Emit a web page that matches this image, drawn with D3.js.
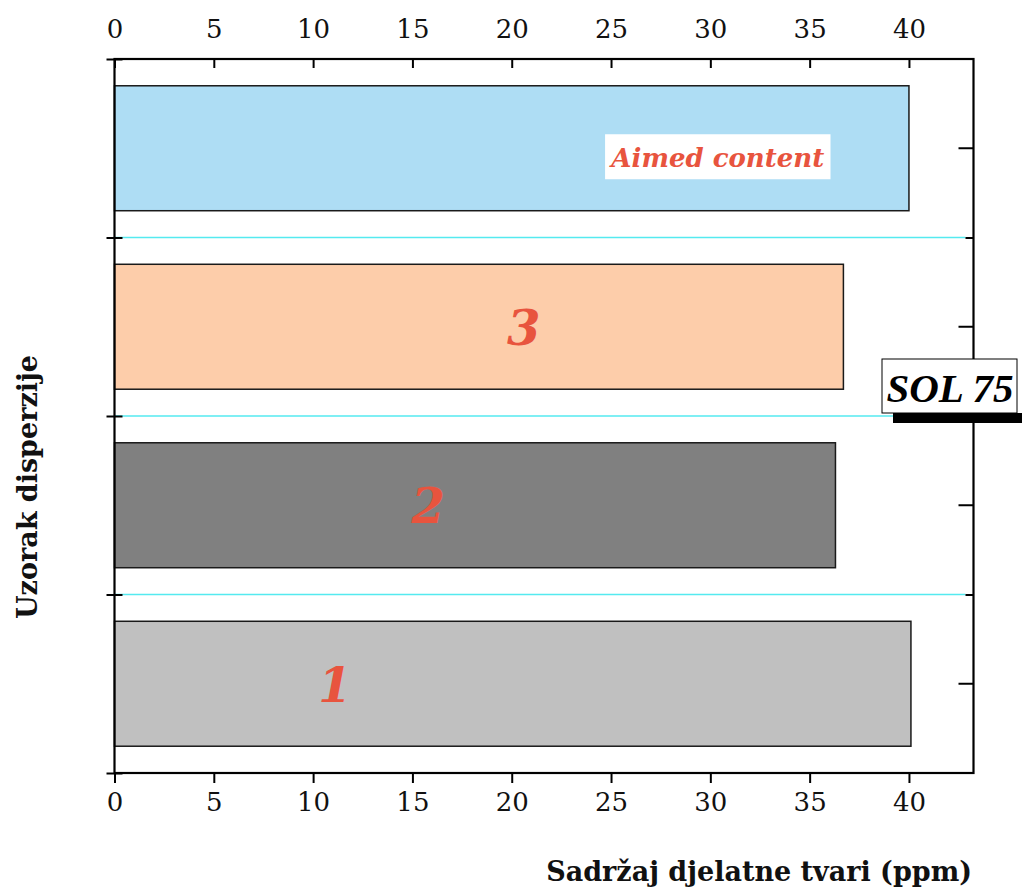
<!DOCTYPE html>
<html>
<head>
<meta charset="utf-8">
<script src="https://cdn.jsdelivr.net/npm/d3@7"></script>
<style>
  body { margin: 0; background: #fff; }
  svg { display: block; }
  .tick text { font-family: "DejaVu Serif", serif; font-size: 26px; fill: #111; }
  .tick line { stroke: #000; stroke-width: 2; }
</style>
</head>
<body>
<svg width="1022" height="893"></svg>
<script>
// samples, top to bottom as drawn
const samples = ['Aimed content', '3', '2', '1'];
const contents = [40.0, 36.7, 36.3, 40.1];
const barColors = ['#aeddf4', '#fdcdaa', '#808080', '#c0c0c0'];
const xTicks = [0, 5, 10, 15, 20, 25, 30, 35, 40];

const xMax = 43.25;
const margin = { left: 114.5, right: 973.5, top: 59, bottom: 773 };

const svg = d3.select('svg');

const x = d3.scaleLinear()
  .domain([0, xMax])
  .range([margin.left, margin.right]);

const y = d3.scaleBand()
  .domain(samples)
  .range([margin.top, margin.bottom])
  .paddingInner(0.3)
  .paddingOuter(0.15);

// category boundaries (0 = bottom ... 4 = top)
const yEdge = d3.scaleLinear()
  .domain([0, samples.length])
  .range([margin.bottom, margin.top]);

// cyan separators
svg.append('g')
  .selectAll('line')
  .data(d3.range(1, samples.length))
  .enter()
  .append('line')
  .attr('x1', margin.left)
  .attr('x2', margin.right - 8)
  .attr('y1', d => yEdge(d))
  .attr('y2', d => yEdge(d))
  .attr('stroke', '#55eaf0')
  .attr('stroke-width', 1.5);

// bars
svg.append('g')
  .selectAll('rect')
  .data(samples)
  .enter()
  .append('rect')
  .attr('x', x(0))
  .attr('y', d => y(d))
  .attr('width', (d, i) => x(contents[i]) - x(0))
  .attr('height', y.bandwidth())
  .attr('fill', (d, i) => barColors[i])
  .attr('stroke', '#1a1a1a')
  .attr('stroke-width', 1.5);

// frame
svg.append('rect')
  .attr('x', margin.left)
  .attr('y', margin.top)
  .attr('width', margin.right - margin.left)
  .attr('height', margin.bottom - margin.top)
  .attr('fill', 'none')
  .attr('stroke', '#000')
  .attr('stroke-width', 2.2);

// top axis, ticks inward
svg.append('g')
  .attr('transform', `translate(0,${margin.top})`)
  .call(d3.axisTop(x).tickValues(xTicks).tickSizeInner(-9).tickSizeOuter(0).tickPadding(21))
  .call(g => g.select('.domain').remove());

// bottom axis, ticks outward
svg.append('g')
  .attr('transform', `translate(0,${margin.bottom})`)
  .call(d3.axisBottom(x).tickValues(xTicks).tickSizeInner(10).tickSizeOuter(0).tickPadding(10))
  .call(g => g.select('.domain').remove());

// left boundary ticks (crossing the axis)
svg.append('g')
  .attr('transform', `translate(${margin.left + 8},0)`)
  .call(d3.axisLeft(yEdge).tickValues(d3.range(0, samples.length + 1)).tickSize(16).tickFormat(''))
  .call(g => g.select('.domain').remove());

// right axis: inward ticks at centres and boundaries
svg.append('g')
  .attr('transform', `translate(${margin.right},0)`)
  .call(d3.axisLeft(y).tickSize(15).tickFormat(''))
  .call(g => g.select('.domain').remove());

svg.append('g')
  .attr('transform', `translate(${margin.right},0)`)
  .call(d3.axisLeft(yEdge).tickValues(d3.range(1, samples.length)).tickSize(8).tickFormat(''))
  .call(g => g.select('.domain').remove());

// sample numbers inside bars
const numberAt = { '3': 20.6, '2': 15.8, '1': 11.1 };
svg.append('g')
  .selectAll('text')
  .data(samples.filter(s => numberAt[s] !== undefined))
  .enter()
  .append('text')
  .attr('x', d => x(numberAt[d]))
  .attr('y', d => y(d) + y.bandwidth() / 2 + 18)
  .attr('text-anchor', 'middle')
  .attr('font-family', 'DejaVu Serif, serif')
  .attr('font-weight', 'bold')
  .attr('font-style', 'italic')
  .attr('font-size', 48)
  .attr('fill', '#e8543e')
  .text(d => d);

// "Aimed content" label
const aimedY = y('Aimed content') + y.bandwidth() / 2;
svg.append('rect')
  .attr('x', x(24.7))
  .attr('y', aimedY - 14)
  .attr('width', x(36.05) - x(24.7))
  .attr('height', 45)
  .attr('fill', '#fff');

svg.append('text')
  .attr('x', (x(24.7) + x(36.05)) / 2)
  .attr('y', aimedY + 19)
  .attr('text-anchor', 'middle')
  .attr('font-family', 'DejaVu Serif, serif')
  .attr('font-weight', 'bold')
  .attr('font-style', 'italic')
  .attr('font-size', 26)
  .attr('fill', '#e8543e')
  .text('Aimed content');

// SOL 75 badge
const badge = svg.append('g').attr('transform', `translate(882,${yEdge(2) - 57})`);
badge.append('rect')
  .attr('x', 11).attr('y', 54)
  .attr('width', 140).attr('height', 10)
  .attr('fill', '#000');
badge.append('rect')
  .attr('x', 0).attr('y', 0)
  .attr('width', 135).attr('height', 54)
  .attr('fill', '#fff')
  .attr('stroke', '#000')
  .attr('stroke-width', 1);
badge.append('text')
  .attr('x', 68)
  .attr('y', 43)
  .attr('text-anchor', 'middle')
  .attr('font-family', 'Liberation Serif, serif')
  .attr('font-weight', 'bold')
  .attr('font-style', 'italic')
  .attr('font-size', 41)
  .attr('fill', '#000')
  .text('SOL 75');

// axis titles
svg.append('text')
  .attr('x', 972)
  .attr('y', 881)
  .attr('text-anchor', 'end')
  .attr('font-family', 'DejaVu Serif, serif')
  .attr('font-weight', 'bold')
  .attr('font-size', 27)
  .attr('fill', '#111')
  .text('Sadržaj djelatne tvari (ppm)');

svg.append('text')
  .attr('transform', `translate(37,${(margin.top + margin.bottom) / 2 + 71}) rotate(-90)`)
  .attr('text-anchor', 'middle')
  .attr('font-family', 'DejaVu Serif, serif')
  .attr('font-weight', 'bold')
  .attr('font-size', 27)
  .attr('fill', '#111')
  .text('Uzorak disperzije');
</script>
</body>
</html>
